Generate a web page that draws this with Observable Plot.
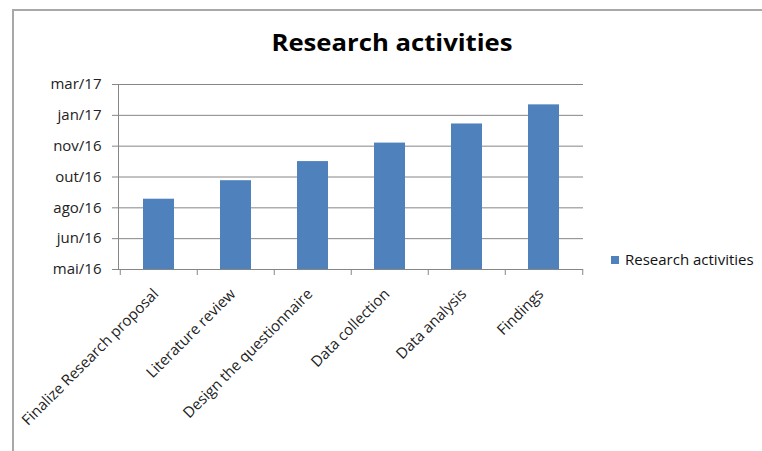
<!DOCTYPE html>
<html>
<head>
<meta charset="utf-8">
<script src="https://cdn.jsdelivr.net/npm/d3@7"></script>
<script src="https://cdn.jsdelivr.net/npm/@observablehq/plot@0.6"></script>
<style>
  html, body { margin: 0; padding: 0; background: #fff; }
  #wrap { position: relative; width: 762px; height: 451px; overflow: hidden; font-family: "Open Sans", Lato, sans-serif; }
  #frame { position: absolute; left: 12px; top: 9px; width: 800px; height: 500px; border-left: 2px solid #a8a8a8; border-top: 2px solid #a8a8a8; }
  #title { position: absolute; left: 0; width: 784px; top: 26px; line-height: 32px; text-align: center; font-weight: bold; font-size: 24px; color: #000; transform: scaleX(1.07); transform-origin: 392px 0; }
  #legend { position: absolute; left: 611px; top: 249px; font-size: 15px; line-height: 20px; color: #111; white-space: nowrap; }
  #legend .sw { display: inline-block; width: 8px; height: 8px; background: #4f81bd; margin-right: 6px; vertical-align: 1px; }
  #chart { position: absolute; left: 0; top: 0; }
</style>
</head>
<body>
<div id="wrap">
  <div id="frame"></div>
  <div id="chart"></div>
  <div id="title">Research activities</div>
  <div id="legend"><span class="sw"></span><span id="legtext"></span></div>
</div>
<script>
// Data
const tasks = ["Finalize Research proposal", "Literature review", "Design the questionnaire", "Data collection", "Data analysis", "Findings"];
const dates = ["2016-09-01", "2016-10-01", "2016-11-01", "2016-12-01", "2017-01-01", "2017-02-01"];
const seriesName = "Research activities";
const tickDates = ["2016-05-10", "2016-06-29", "2016-08-18", "2016-10-07", "2016-11-26", "2017-01-15", "2017-03-06"];
const tickLabels = ["mai/16", "jun/16", "ago/16", "out/16", "nov/16", "jan/17", "mar/17"];

const data = tasks.map((t, i) => ({task: t, date: new Date(dates[i])}));
const ticks = tickDates.map(d => new Date(d));
const base = ticks[0];

const W = 762, H = 451, ML = 118, MR = 179, MT = 84, MB = 182;
const step = (W - ML - MR) / tasks.length;
const labelOf = new Map(ticks.map((d, i) => [+d, tickLabels[i]]));

document.getElementById("legtext").textContent = seriesName;

const chart = Plot.plot({
  width: W, height: H,
  marginLeft: ML, marginRight: MR, marginTop: MT, marginBottom: MB,
  style: {fontFamily: "'Open Sans', Lato, sans-serif", fontSize: "15px", color: "#111", background: "transparent"},
  x: {type: "band", domain: tasks, paddingInner: 0.6, paddingOuter: 0.3},
  y: {type: "utc", domain: [ticks[0], ticks[ticks.length - 1]]},
  marks: [
    Plot.gridY(ticks, {stroke: "#868686", strokeOpacity: 1, strokeWidth: 1}),
    Plot.barY(data, {x: "task", y1: () => base, y2: "date", fill: "#4f81bd"}),
    Plot.ruleY([base], {stroke: "#868686", strokeWidth: 1}),
    Plot.ruleX(tasks, {x: d => d, y1: () => base, y2: () => base, insetBottom: -6, dx: -step / 2, stroke: "#868686"}),
    Plot.ruleX([tasks[tasks.length - 1]], {x: d => d, y1: () => base, y2: () => base, insetBottom: -6, dx: step / 2, stroke: "#868686"}),
    Plot.axisY({ticks: ticks, tickFormat: d => labelOf.get(+d), tickSize: 6, tickPadding: 11, stroke: "#868686", fill: "#222", fontSize: 15}),
    Plot.axisX({tickSize: 0, tickRotate: -45, tickPadding: 22, dx: -3, fill: "#222", fontSize: 15, label: null}),
    Plot.frame({anchor: "left", stroke: "#868686"})
  ]
});
document.getElementById("chart").appendChild(chart);
</script>
</body>
</html>
